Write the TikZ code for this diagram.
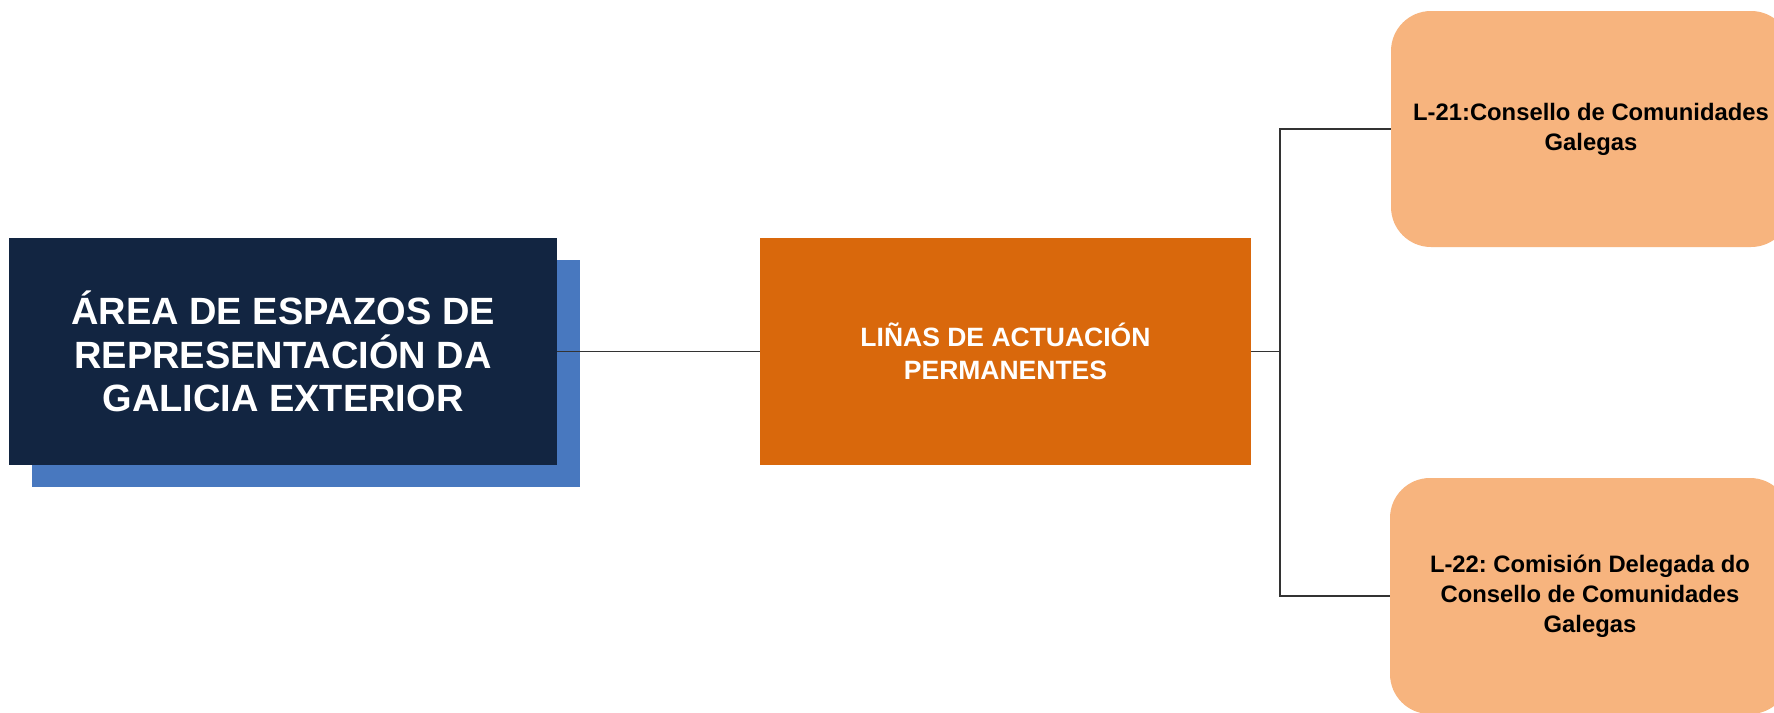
\documentclass[tikz,border=0pt]{standalone}
\usepackage{fontspec}
\setmainfont{Liberation Sans}
\definecolor{navy}{HTML}{122541}
\definecolor{shadowblue}{HTML}{4878BF}
\definecolor{burnt}{HTML}{D9680C}
\definecolor{peach}{HTML}{F7B47E}
\definecolor{linegray}{HTML}{333333}
\tikzset{
  mainbox/.style={rectangle, fill=navy, text=white, minimum width=548pt, minimum height=227pt, inner sep=0pt, align=center, font=\bfseries\fontsize{38}{43.5}\selectfont},
  shadowbox/.style={rectangle, fill=shadowblue, minimum width=548pt, minimum height=227pt, inner sep=0pt},
  midbox/.style={rectangle, fill=burnt, text=white, minimum width=491pt, minimum height=227pt, inner sep=0pt, align=center, font=\bfseries\fontsize{26.5}{33}\selectfont},
  leafbox/.style={rectangle, rounded corners=40pt, fill=peach, text=black, minimum width=400pt, minimum height=236pt, inner sep=0pt, align=center, font=\frenchspacing\bfseries\fontsize{23.8}{30}\selectfont},
  conn/.style={draw=linegray, line width=1.2pt}
}
\begin{document}
\begin{tikzpicture}[x=1pt,y=-1pt]
\useasboundingbox (0,0) rectangle (1774,712);
\clip (0,0) rectangle (1774,712);
\fill[white] (0,0) rectangle (1774,712);
\node[shadowbox] (shadow) at (306,373.5) {};
\node[mainbox] (main) at (283,351.5) {ÁREA DE ESPAZOS DE\\REPRESENTACIÓN DA\\GALICIA EXTERIOR};
\node[midbox] (mid) at (1005.5,351.5) {LIÑAS DE ACTUACIÓN\\PERMANENTES};
\node[leafbox] (l21) at (1591,129) {L-21:Consello de Comunidades\\Galegas};
\node[leafbox] (l22) at (1590,596) {L-22: Comisión Delegada do\\Consello de Comunidades\\Galegas};
\coordinate (trunk) at (1280,351.5);
\draw[conn] (main.east) -- (mid.west);
\draw[conn] (mid.east) -- (trunk);
\draw[conn] (trunk) |- (l21.west);
\draw[conn] (trunk) |- (l22.west);
\end{tikzpicture}
\end{document}
